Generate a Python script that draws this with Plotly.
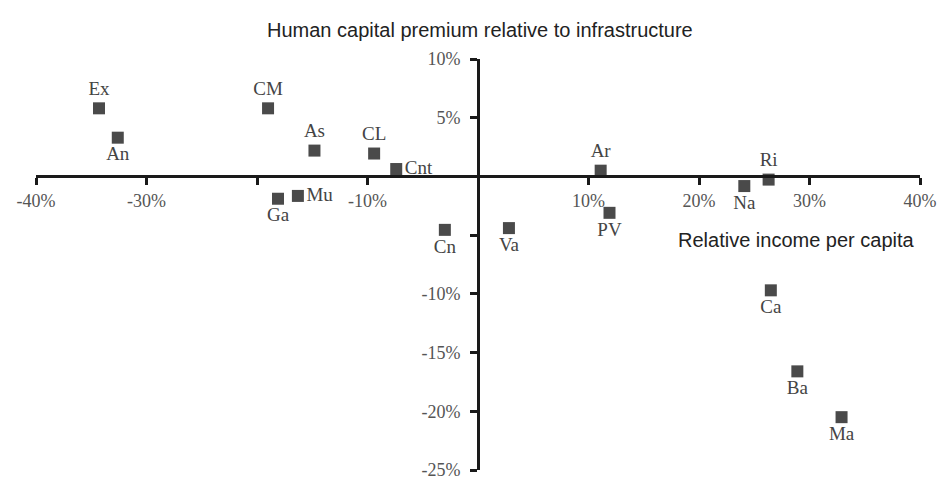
import plotly.graph_objects as go

labels = ["Ex", "An", "CM", "As", "CL", "Cnt", "Ga", "Mu", "Cn", "Va",
          "Ar", "PV", "Na", "Ri", "Ca", "Ba", "Ma"]
income = [-34.3, -32.6, -19.0, -14.8, -9.4, -7.4, -18.1, -16.3, -3.0, 2.8,
          11.1, 11.9, 24.1, 26.3, 26.5, 28.9, 32.9]
premium = [5.8, 3.3, 5.8, 2.2, 1.95, 0.63, -1.9, -1.66, -4.55, -4.4,
           0.49, -3.1, -0.82, -0.27, -9.7, -16.6, -20.5]
label_pos = ["top center", "bottom center", "top center", "top center", "top center",
             "middle right", "bottom center", "middle right", "bottom center", "bottom center",
             "top center", "bottom center", "bottom center", "top center",
             "bottom center", "bottom center", "bottom center"]

x_ticks = [-40, -30, -20, -10, 10, 20, 30, 40]
x_tick_text = ["-40%", "-30%", "", "-10%", "10%", "20%", "30%", "40%"]
y_ticks = [10, 5, -5, -10, -15, -20, -25]
y_tick_text = ["10%", "5%", "", "-10%", "-15%", "-20%", "-25%"]

x_range = [-40, 40]
y_range = [-25, 10]

serif = "Liberation Serif"
fig = go.Figure()
fig.add_trace(go.Scatter(
    x=income, y=premium, mode="markers+text",
    text=labels, textposition=label_pos,
    marker=dict(symbol="square", size=12, color="#4a4a4a"),
    textfont=dict(family=serif, size=19, color="#444444"),
    cliponaxis=False, hoverinfo="skip",
))

axis_common = dict(showgrid=False, zeroline=False, showline=True, linecolor="#1a1a1a",
                   linewidth=3, ticks="outside", ticklen=7, tickwidth=3, tickcolor="#1a1a1a",
                   ticklabeloverflow="allow", automargin=False,
                   tickfont=dict(family=serif, size=18, color="#555555"))

fig.update_layout(
    width=939, height=479,
    margin=dict(l=36, r=19, t=59, b=9),
    plot_bgcolor="white", paper_bgcolor="white",
    showlegend=False,
    xaxis=dict(range=x_range, tickvals=x_ticks, ticktext=x_tick_text,
               anchor="free", position=(0 - y_range[0]) / (y_range[1] - y_range[0]),
               **axis_common),
    yaxis=dict(range=y_range, tickvals=y_ticks, ticktext=y_tick_text,
               anchor="free", position=(0 - x_range[0]) / (x_range[1] - x_range[0]),
               ticklabelstandoff=6, **axis_common),
    annotations=[
        dict(text="Human capital premium relative to infrastructure", xref="paper", yref="paper",
             x=(480 - 36) / 884, y=(479 - 9 - 30) / 411, xanchor="center", yanchor="middle",
             showarrow=False, font=dict(family="Liberation Sans", size=20, color="#222222")),
        dict(text="Relative income per capita", xref="paper", yref="paper",
             x=(917 - 36) / 884, y=(479 - 9 - 240) / 411, xanchor="right", yanchor="middle",
             showarrow=False, font=dict(family="Liberation Sans", size=20, color="#222222")),
    ],
)

fig.write_html("out.html", config={"displayModeBar": False},
               post_script="document.body.style.margin='0';document.body.style.overflow='hidden';")
